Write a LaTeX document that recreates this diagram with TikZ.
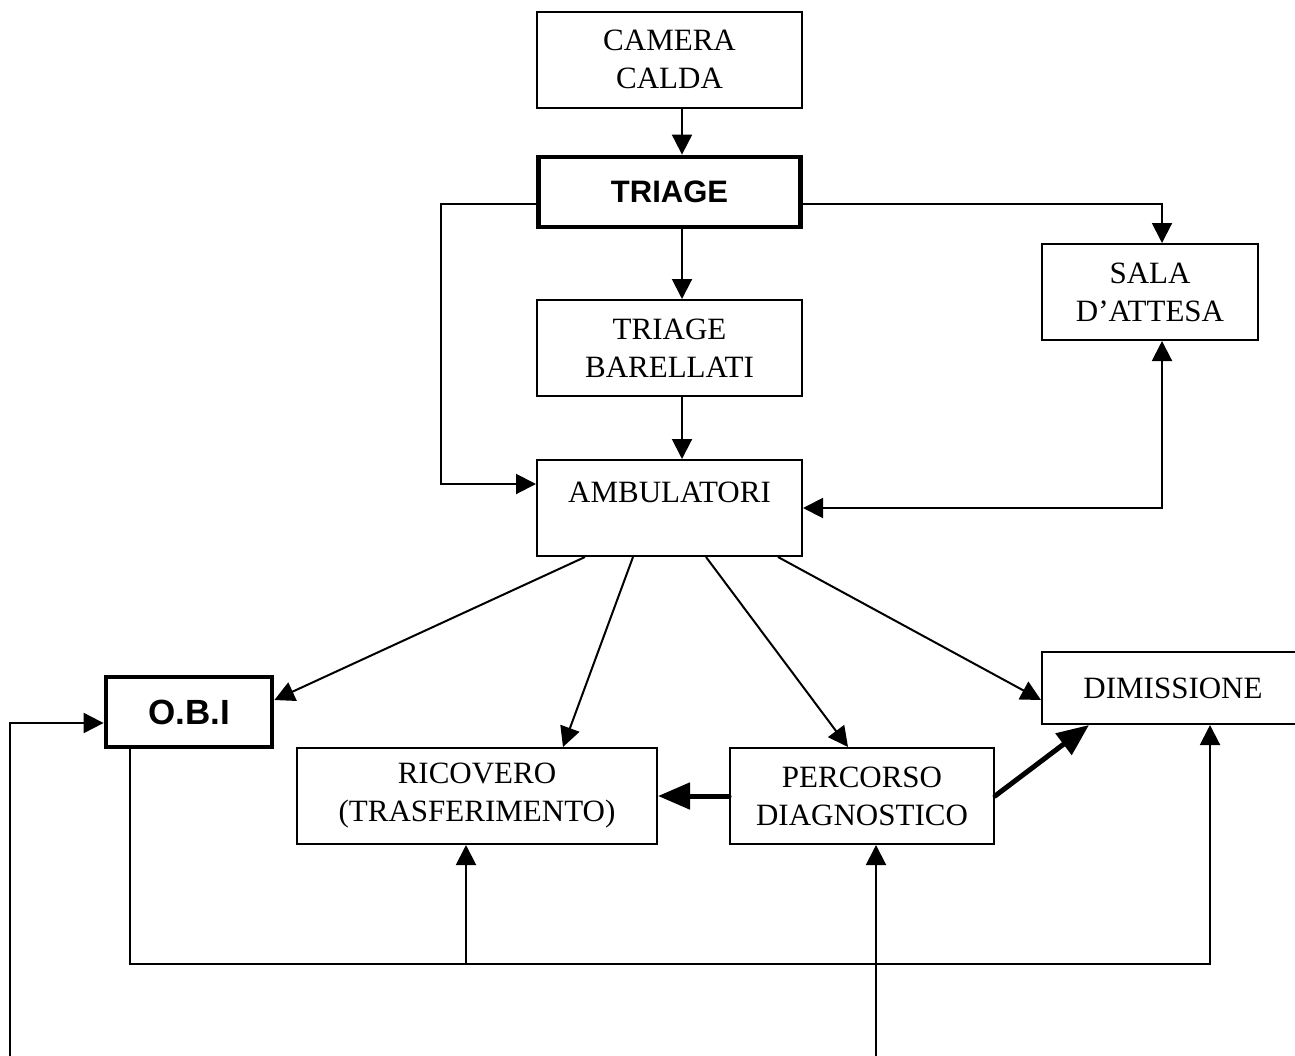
\documentclass[tikz,border=0pt]{standalone}
\usepackage{fontspec}
\setmainfont{Liberation Serif}
\newfontfamily\headfont{Liberation Sans}
\usetikzlibrary{arrows.meta,positioning}

\begin{document}
\begin{tikzpicture}[
  x=0.5pt, y=-0.5pt,
  box/.style={draw, line width=1pt, inner sep=0pt, minimum width=132.5pt,
              minimum height=48pt, align=center,
              font=\fontsize{15.5pt}{19pt}\selectfont},
  keybox/.style={box, line width=2.4pt, minimum height=35pt,
                 font=\headfont\bfseries\fontsize{15.5pt}{19pt}\selectfont},
  arrow/.style={-{Triangle[length=10pt,width=10pt]}, line width=1pt},
  twoway/.style={{Triangle[length=10pt,width=10pt]}-{Triangle[length=10pt,width=10pt]}, line width=1pt},
  heavy/.style={-{Triangle[length=16pt,width=13pt]}, line width=2.5pt, line cap=round}
]
\useasboundingbox (0,0) rectangle (1295,1055);
\clip (0,0) rectangle (1295,1055);

\node[box] (cam) at (669.5,59.5) {CAMERA\\CALDA};
\node[keybox, minimum width=131pt] (triage) at (669.5,192) {TRIAGE};
\node[box] (bar) at (669.5,348) {TRIAGE\\BARELLATI};
\node[box] (amb) at (669.5,508) {AMBULATORI\\[-9pt]\strut};
\node[box, minimum width=108pt] (sala) at (1150,292) {SALA\\D’ATTESA};
\node[keybox, minimum width=83pt, font=\headfont\bfseries\fontsize{17.5pt}{21pt}\selectfont] (obi) at (189,712) {O.B.I};
\node[box, minimum width=131pt, minimum height=36pt] (dim) at (1173,688) {DIMISSIONE};
\node[box, minimum width=180pt] (ric) at (477,796) {RICOVERO\\(TRASFERIMENTO)};
\node[box, minimum width=132pt] (perc) at (862,796) {PERCORSO\\DIAGNOSTICO};

\coordinate (busl) at (130,964);
\coordinate (busr) at (1210,964);
\coordinate (inobi) at (10,1060);
\coordinate (inperc) at (876,1060);

\draw[arrow] ([xshift=6.25pt]cam.south) -- ([xshift=6.25pt]triage.north);
\draw[arrow] ([xshift=6.25pt]triage.south) -- ([xshift=6.25pt]bar.north);
\draw[arrow] ([xshift=6.25pt]bar.south) -- ([xshift=6.25pt]amb.north);
\draw[arrow] ([yshift=-6pt]triage.west) -| ([xshift=-47.5pt,yshift=12pt]amb.west) -- ([yshift=12pt]amb.west);
\draw[arrow] ([yshift=-6pt]triage.east) -| ([xshift=6pt]sala.north);
\draw[twoway] ([xshift=6pt]sala.south) |- (amb.east);

\draw[arrow] ([xshift=-42.25pt]amb.south) -- ([yshift=6pt]obi.east);
\draw[arrow] ([xshift=-18.25pt]amb.south) -- ([xshift=43pt]ric.north);
\draw[arrow] ([xshift=18.25pt]amb.south) -- ([xshift=-7pt]perc.north);
\draw[arrow] ([xshift=54.25pt]amb.south) -- ([yshift=-6pt]dim.west);

\draw[heavy] (perc.west) -- (ric.east);
\draw[heavy] (perc.east) -- ([xshift=-42pt]dim.south);

\draw[arrow] ([xshift=-29.5pt]obi.south) -- (busl) -- (busr) -- ([xshift=18.5pt]dim.south);
\draw[arrow] ([xshift=-5.5pt]ric.south |- busl) -- ([xshift=-5.5pt]ric.south);
\draw[arrow] (inobi) |- ([yshift=-5.5pt]obi.west);
\draw[arrow] (inperc) -- (perc.south -| inperc);
\end{tikzpicture}
\end{document}
